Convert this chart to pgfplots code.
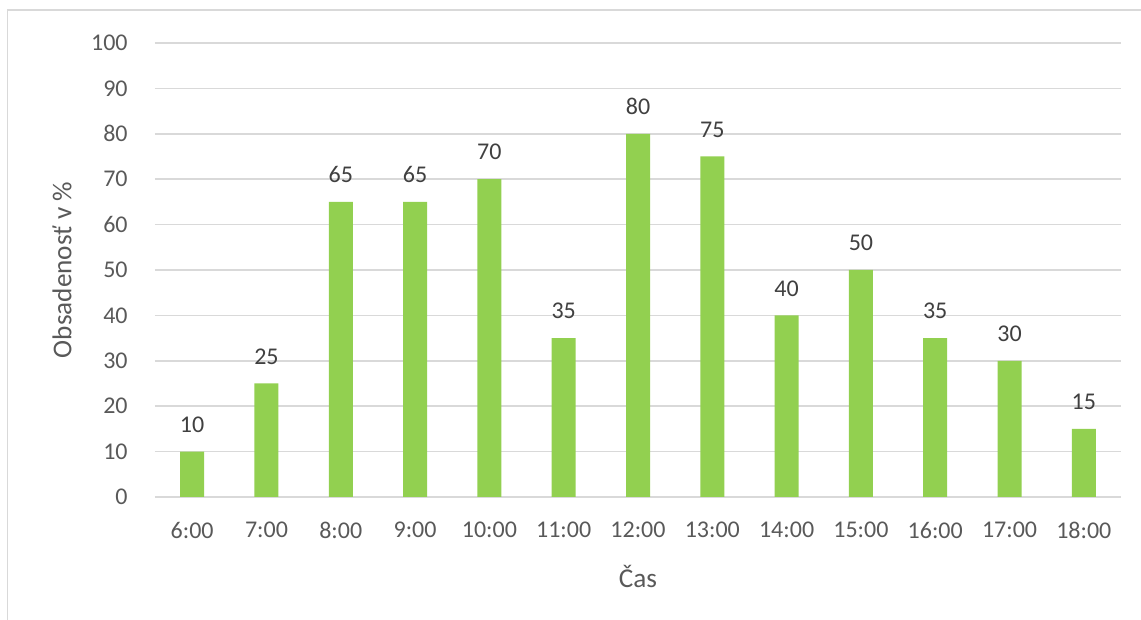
\documentclass[border=0pt]{standalone}
\usepackage{pgfplots}
\pgfplotsset{compat=1.18}
\usepackage{fontspec}
\setmainfont{Carlito}
\definecolor{barg}{HTML}{92D050}
\definecolor{gridc}{HTML}{D9D9D9}
\definecolor{tickc}{HTML}{595959}
\definecolor{labc}{HTML}{404040}
\begin{document}
\begin{tikzpicture}
\useasboundingbox (0,0) rectangle (570.5pt,310pt);
\draw[gridc, line width=0.75pt] (3.75pt,0) -- (3.75pt,305pt) -- (570.5pt,305pt);
\begin{axis}[
  at={(77.5pt,61.5pt)}, anchor=south west,
  scale only axis, width=483pt, height=227pt,
  ybar, bar width=12pt,
  xmin=-0.5, xmax=12.5, ymin=0, ymax=100,
  xtick=data,
  xticklabels={6:00,7:00,8:00,9:00,10:00,11:00,12:00,13:00,14:00,15:00,16:00,17:00,18:00},
  ytick={0,10,...,100},
  ymajorgrids, grid style={gridc, line width=0.75pt},
  axis line style={draw=none},
  axis x line*=bottom,
  x axis line style={draw=gridc, line width=0.75pt},
  major tick length=0pt,
  /pgf/number format/assume math mode=true,
  tick label style={font=\fontsize{12}{14}\selectfont, text=tickc},
  yticklabel style={anchor=east, inner sep=0pt, xshift=-13.5pt},
  xticklabel style={anchor=north, inner sep=0pt, yshift=-12.5pt},
  ylabel={Obsadenosť v \%},
  xlabel={Čas},
  label style={font=\fontsize{13.6}{16}\selectfont, text=tickc},
  ylabel style={at={(axis description cs:-0.0963,0.5)}, anchor=center},
  xlabel style={at={(axis description cs:0.5,-0.174)}, anchor=center},
  nodes near coords,
  every node near coord/.append style={font=\fontsize{12}{14}\selectfont, text=labc, anchor=south, yshift=6pt},
]
\addplot[fill=barg, draw=none] coordinates {
(0,10) (1,25) (2,65) (3,65) (4,70) (5,35) (6,80) (7,75) (8,40) (9,50) (10,35) (11,30) (12,15)
};
\end{axis}
\end{tikzpicture}
\end{document}
